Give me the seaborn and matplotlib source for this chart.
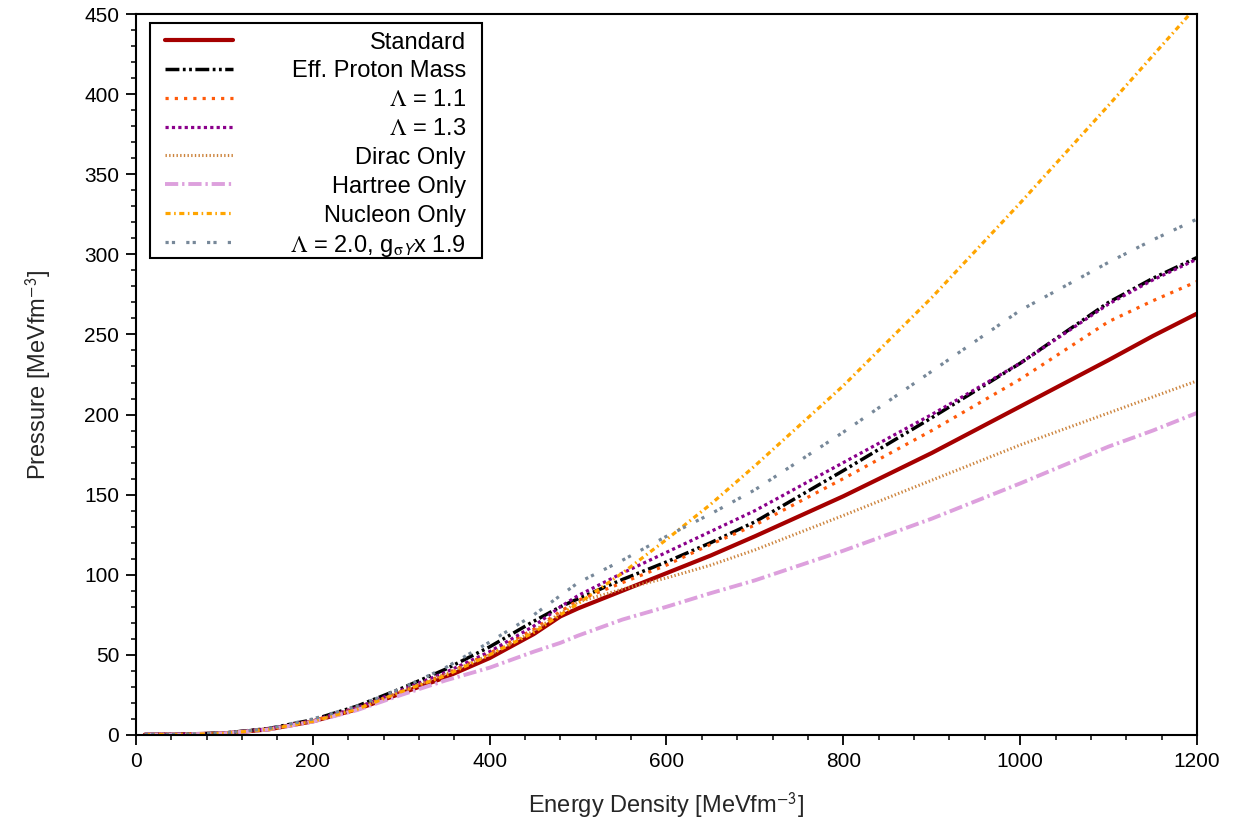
import numpy as np
import pandas as pd
import matplotlib
matplotlib.use("Agg")
import matplotlib.pyplot as plt
from matplotlib.lines import Line2D
from matplotlib.patches import Rectangle
import seaborn as sns

# ---------------- data ----------------
energy = [10, 50, 100, 150, 200, 250, 300, 350, 400, 450, 480, 500, 550, 600,
          650, 700, 800, 900, 1000, 1100, 1150, 1200]

standard = [0.2, 0.3, 1.0, 3.5, 8.5, 16, 26, 36, 48, 63, 74, 79, 90, 101,
            112, 124, 149, 176, 205, 234, 249, 263]
eff_proton = [0.3, 0.4, 1.2, 4.0, 9.5, 18, 29, 41, 55, 71, 80, 85, 97, 108,
              120, 133, 165, 198, 232, 270, 285, 298]
lambda_11 = [0.3, 0.4, 1.1, 3.7, 8.8, 17, 27, 38, 51, 66, 77, 84, 95, 106,
             119, 131, 160, 190, 222, 258, 271, 283]
lambda_13 = [0.3, 0.4, 1.1, 3.8, 9.0, 17, 28, 39, 52, 68, 80, 87, 101, 114,
             127, 140, 170, 200, 232, 269, 284, 297]
dirac_only = [0.2, 0.3, 1.0, 3.6, 8.7, 16.5, 27, 38, 50, 65, 76, 83, 91, 98,
              106, 115.5, 137, 159, 181, 201, 211, 221]
hartree_only = [0.2, 0.3, 1.0, 3.4, 8.3, 15.5, 25, 34, 42, 52, 57.5, 62, 72, 80,
                88.5, 96.5, 115, 135, 157, 180, 190, 201]
nucleon_only = [0.2, 0.3, 1.0, 3.5, 8.5, 16, 27, 37, 50, 64, 75, 82, 101, 122,
                144, 168, 218, 273, 332, 393, 424, 455]
lambda_20 = [0.3, 0.4, 1.2, 4.0, 10, 18, 29, 42, 58, 75, 87, 95, 109, 124,
             138, 153, 189, 227, 265, 295, 309, 322]

labels = ["Standard", "Eff. Proton Mass", r"$\Lambda$ = 1.1", r"$\Lambda$ = 1.3",
          "Dirac Only", "Hartree Only", "Nucleon Only",
          r"$\Lambda$ = 2.0, g$_{\mathrm{\sigma}\mathsf{Y}}$x 1.9"]
series = [standard, eff_proton, lambda_11, lambda_13, dirac_only,
          hartree_only, nucleon_only, lambda_20]
colors = ["#a50000", "#000000", "#ff5a0a", "#8b008b", "#cd853f",
          "#dda0dd", "#ffa500", "#778899"]
widths = [3.0, 2.5, 2.3, 2.3, 2.2, 2.8, 2.3, 2.3]
dash_patterns = [None, (4.0, 1.0, 0.8, 1.0, 0.8, 1.0), (1.0, 1.9), (1.0, 1.0),
                 (0.45, 0.75), (3.4, 1.0, 0.6, 1.0), (1.6, 1.1, 0.5, 1.1),
                 (1.0, 1.0, 1.0, 3.5)]

# ---------------- style ----------------
sns.set_theme(style="ticks")
plt.rcParams["font.family"] = ["Liberation Sans", "DejaVu Sans"]
plt.rcParams["mathtext.fontset"] = "stix"
plt.rcParams["axes.edgecolor"] = "black"
plt.rcParams["axes.linewidth"] = 1.5

fig = plt.figure(figsize=(12.44, 8.30), dpi=100)
ax = fig.add_axes([0.1093, 0.1145, 0.8529, 0.8686])

for lab, ys, col, lw, dp in zip(labels, series, colors, widths, dash_patterns):
    df = pd.DataFrame({"E": energy, "P": ys})
    sns.lineplot(data=df, x="E", y="P", ax=ax, color=col, linewidth=lw,
                 sort=False, estimator=None, legend=False)
    line = ax.lines[-1]
    if dp is not None:
        line.set_dashes(dp)
        line.set_dash_capstyle("butt")

ax.set_xlim(0, 1200)
ax.set_ylim(0, 450)
ax.set_xticks(np.arange(0, 1201, 200))
ax.set_yticks(np.arange(0, 451, 50))
ax.set_xticks(np.arange(0, 1201, 40), minor=True)
ax.set_yticks(np.arange(0, 451, 10), minor=True)
ax.tick_params(axis="both", which="major", direction="out", length=7,
               width=1.3, labelsize=15, colors="black", pad=5)
ax.tick_params(axis="both", which="minor", direction="out", length=3.5,
               width=1.1, colors="black")
for s in ax.spines.values():
    s.set_visible(True)
    s.set_color("black")
    s.set_linewidth(1.5)

ax.set_xlabel(r"Energy Density [MeVfm$^{\mathsf{-3}}$]", fontsize=17, labelpad=14)
ax.set_ylabel(r"Pressure [MeVfm$^{\mathsf{-3}}$]", fontsize=17, labelpad=22)

# ---------------- legend (right-aligned labels, gnuplot style) ----------------
ax_w_px, ax_h_px = 1061.0, 721.0
frame = Rectangle((14 / ax_w_px, 1 - 244 / ax_h_px), 332 / ax_w_px, 235 / ax_h_px,
                  transform=ax.transAxes, facecolor="white", edgecolor="black",
                  linewidth=1.5, zorder=5)
ax.add_patch(frame)
for i, (lab, col, lw, dp) in enumerate(zip(labels, colors, widths, dash_patterns)):
    yc = 1 - (26 + 28.86 * i) / ax_h_px
    h = Line2D([29 / ax_w_px, 97 / ax_w_px], [yc, yc], transform=ax.transAxes,
               color=col, linewidth=lw, zorder=6, clip_on=False)
    if dp is not None:
        h.set_dashes(dp)
        h.set_dash_capstyle("butt")
    ax.add_line(h)
    ax.text(330 / ax_w_px, yc, lab, transform=ax.transAxes, ha="right",
            va="center_baseline", fontsize=17, color="black", zorder=6)

fig.savefig("out.png", dpi=100)
